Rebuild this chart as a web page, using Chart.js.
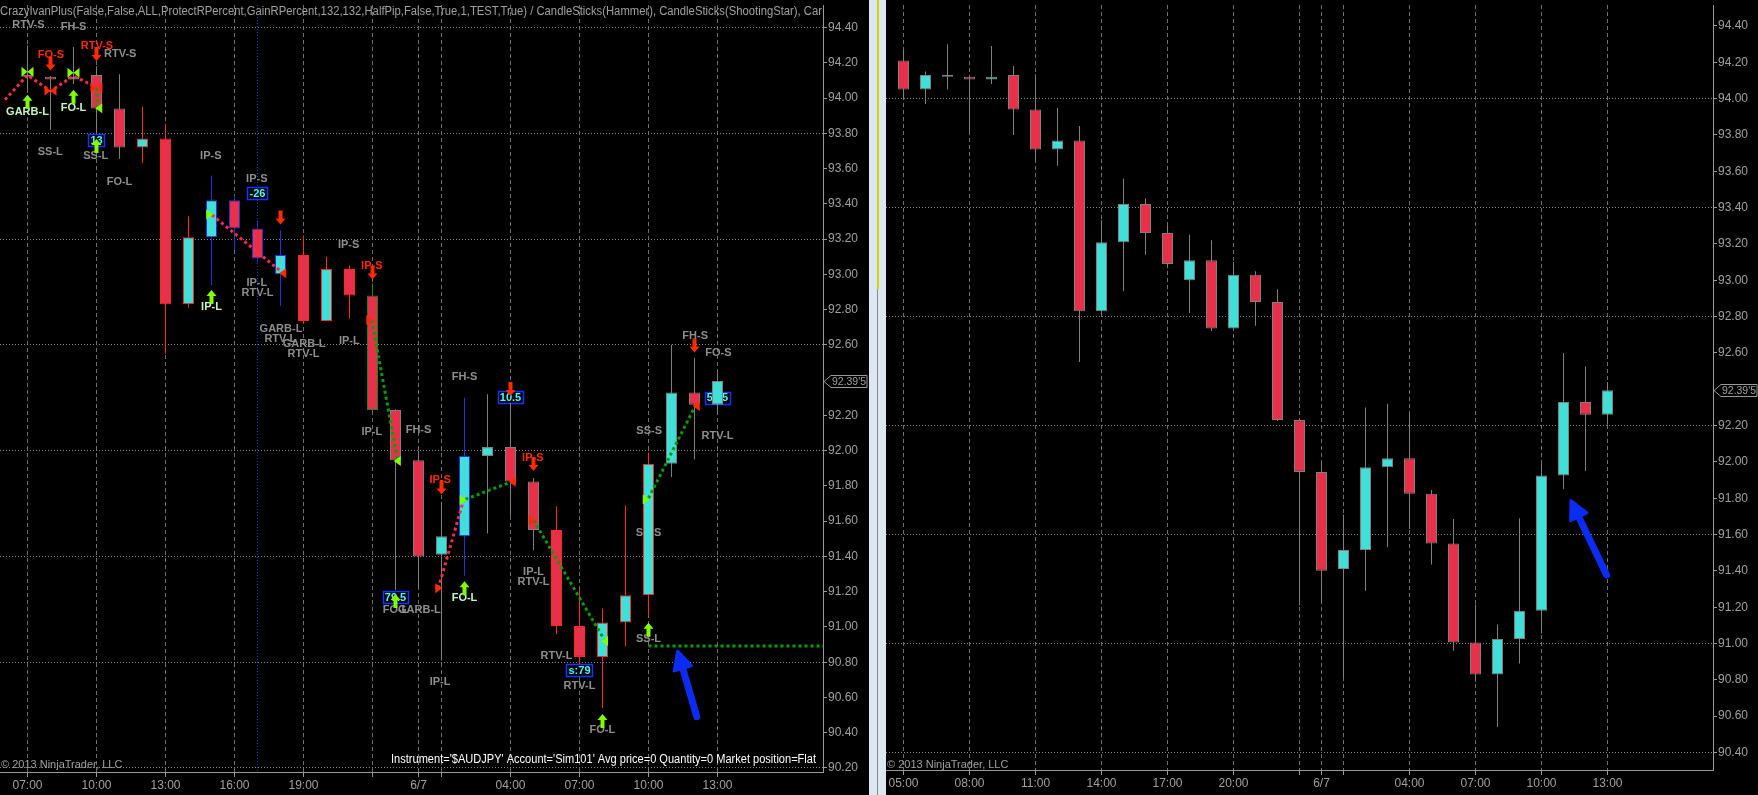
<!DOCTYPE html>
<html>
<head>
<meta charset="utf-8">
<title>$AUDJPY 60 Min</title>
<script src="https://cdn.jsdelivr.net/npm/chart.js@4.4.1/dist/chart.umd.min.js"></script>
<style>
  html, body { margin: 0; padding: 0; background: #000; overflow: hidden; }
  #wrap { position: relative; width: 1758px; height: 795px; background: #000; }
  canvas { position: absolute; top: 0; }
  #left { left: 0; }
  #right { left: 886px; }
  #split { position: absolute; left: 869px; top: 0; width: 17px; height: 795px; background: #dde7f3; }
  #split .hi { position: absolute; left: 8px; top: 0; width: 2px; height: 289px; background: #d4d400; }
  #split .lo { position: absolute; left: 8px; top: 289px; width: 1px; height: 506px; background: #8a8a8a; }
</style>
</head>
<body>
<div id="wrap">
  <canvas id="left" width="869" height="795"></canvas>
  <div id="split"><div class="hi"></div><div class="lo"></div></div>
  <canvas id="right" width="872" height="795"></canvas>
</div>
<script>
// hourly bars, 6/6 05:00 .. 6/7 13:00 (index 0 = 05:00)
const OPEN  = [94.21, 94.05, 94.12, 94.12, 94.105, 94.13, 93.94, 93.72, 93.77, 92.83, 93.21, 93.42, 93.26, 93.00, 93.11, 92.735, 93.03, 92.88, 92.23, 91.945, 91.41, 91.515, 91.97, 92.02, 91.825, 91.55, 91.005, 90.83, 91.025, 91.18, 91.925, 92.33, 92.26];
const HIGH  = [94.27, 94.15, 94.30, 94.125, 94.29, 94.18, 94.135, 93.95, 93.85, 93.33, 93.56, 93.45, 93.30, 93.25, 93.22, 93.10, 93.05, 92.95, 92.235, 92.00, 91.71, 92.30, 92.32, 92.27, 91.845, 91.685, 91.215, 91.105, 91.69, 91.99, 92.60, 92.525, 92.44];
const LOW   = [94.00, 93.97, 94.05, 93.82, 94.08, 93.80, 93.655, 93.63, 92.55, 92.81, 92.94, 93.14, 93.07, 92.82, 92.72, 92.735, 92.75, 92.225, 91.21, 91.22, 90.81, 91.29, 91.53, 91.63, 91.435, 90.96, 90.79, 90.54, 90.89, 91.055, 91.85, 91.95, 92.205];
const CLOSE = [94.05, 94.13, 94.12, 94.105, 94.12, 93.94, 93.72, 93.77, 92.83, 93.21, 93.42, 93.26, 93.09, 93.11, 92.735, 93.03, 92.88, 92.23, 91.945, 91.40, 91.515, 91.97, 92.02, 91.825, 91.55, 91.005, 90.83, 91.025, 91.18, 91.925, 92.33, 92.26, 92.395];

// strategy state of each bar on the left chart (starts at 07:00 = index 2)
const LEFT_FIRST = 2;
const LEFT_STATE = ['flat', 'flat', 'flat', 'flat', 'flat', 'short', 'short', 'short', 'long', 'long', 'long', 'long', 'short', 'short', 'short', 'trail', 'flat', 'flat', 'flat', 'long', 'flat', 'flat', 'flat', 'short', 'short', 'short', 'short', 'short', 'flat', 'flat', 'flat'];

const LEFT_X_TICKS  = [2, 5, 8, 11, 14, 17, 19, 20, 23, 26, 29, 32];
const LEFT_X_LABELS = ['07:00', '10:00', '13:00', '16:00', '19:00', '', '6/7', '', '04:00', '07:00', '10:00', '13:00'];
const RIGHT_X_TICKS  = [0, 3, 6, 9, 12, 15, 18, 19, 20, 23, 26, 29, 32];
const RIGHT_X_LABELS = ['05:00', '08:00', '11:00', '14:00', '17:00', '20:00', '', '6/7', '', '04:00', '07:00', '10:00', '13:00'];
const LEFT_Y_TICKS  = [90.2, 90.4, 90.6, 90.8, 91.0, 91.2, 91.4, 91.6, 91.8, 92.0, 92.2, 92.6, 92.8, 93.0, 93.2, 93.4, 93.6, 93.8, 94.0, 94.2, 94.4];
const RIGHT_Y_TICKS = [90.4, 90.6, 90.8, 91.0, 91.2, 91.4, 91.6, 91.8, 92.0, 92.2, 92.6, 92.8, 93.0, 93.2, 93.4, 93.6, 93.8, 94.0, 94.2, 94.4];
const SESSION_BREAK = [12];

// strategy signal texts [bar, price, text]
const SIGNAL_TEXT = [
  [2.04, 94.414, 'RTV-S'], [4.0, 94.405, 'FH-S'], [6.03, 94.25, 'RTV-S'], [2.99, 93.692, 'SS-L'],
  [4.97, 93.671, 'SS-L'], [6.0, 93.522, 'FO-L'], [9.97, 93.671, 'IP-S'], [11.97, 93.541, 'IP-S'],
  [11.97, 92.952, 'IP-L'], [12.0, 92.896, 'RTV-L'], [13.02, 92.69, 'GARB-L'], [12.99, 92.633, 'RTV-L'],
  [14.03, 92.603, 'GARB-L'], [14.0, 92.546, 'RTV-L'], [15.96, 93.166, 'IP-S'], [15.99, 92.623, 'IP-L'],
  [16.97, 92.107, 'IP-L'], [19.0, 92.117, 'FH-S'], [21.0, 92.416, 'FH-S'], [18.0, 91.096, 'FO-L'],
  [19.04, 91.096, 'GARB-L'], [19.94, 90.689, 'IP-L'], [24.0, 91.313, 'IP-L'], [24.0, 91.256, 'RTV-L'],
  [25.0, 90.835, 'RTV-L'], [26.0, 90.665, 'RTV-L'], [26.99, 90.415, 'FO-L'], [29.03, 92.111, 'SS-S'],
  [29.0, 91.534, 'SS-S'], [29.0, 90.933, 'SS-L'], [31.03, 92.65, 'FH-S'], [32.04, 92.552, 'FO-S'],
  [32.0, 92.083, 'RTV-L']
];
const SHORT_ENTRY_TEXT = [[3.02, 94.244, 'FO-S'], [5.02, 94.297, 'RTV-S'], [16.97, 93.047, 'IP-S'], [19.94, 91.833, 'IP-S'], [23.97, 91.956, 'IP-S']];
const LONG_ENTRY_TEXT = [[2.0, 93.919, 'GARB-L'], [4.0, 93.945, 'FO-L'], [10.0, 92.813, 'IP-L'], [21.0, 91.162, 'FO-L']];
const LONG_ARROWS = [[2.0, 93.979], [4.0, 94.007], [5.0, 93.728], [10.0, 92.871], [18.0, 91.147], [21.0, 91.219], [27.0, 90.466], [29.0, 90.984]];
const SHORT_ARROWS = [[3.0, 94.196], [5.0, 94.25], [13.0, 93.322], [17.0, 93.01], [20.0, 91.791], [23.0, 92.35], [24.0, 91.924], [31.0, 92.596]];
const PNL_TAGS = [[5.0, 93.762, '13'], [12.0, 93.461, '-26'], [18.0, 91.17, '79.5'], [23.0, 92.304, '10.5'], [26.0, 90.756, 's:79'], [32.0, 92.30, '55.5']];
const LONG_FILLS_IN = [[9.9, 93.34], [20.92, 91.72], [28.88, 91.723]];
const LONG_FILLS_OUT = [[5.12, 93.942], [18.1, 91.941], [27.11, 90.921]];
const SHORT_FILLS_IN = [[16.86, 92.741], [19.86, 91.219], [23.92, 91.606]];
const SHORT_FILLS_OUT = [[13.12, 93.006], [23.1, 91.824], [31.1, 92.253]];
const LONG_PIVOTS = [[2.0, 94.149], [4.0, 94.144]];
const SHORT_PIVOTS = [[3.0, 94.041], [5.0, 94.06]];
const SHORT_TRADES = [
  [[1.02, 93.99], [2.0, 94.13], [3.0, 94.04], [4.0, 94.125], [5.02, 94.06]],
  [[10.02, 93.337], [13.12, 93.006]],
  [[19.86, 91.219], [20.96, 91.72]]
];
const LONG_TRADES = [
  [[5.02, 94.06], [5.02, 93.942]],
  [[16.97, 92.741], [18.1, 91.941]],
  [[21.04, 91.724], [23.06, 91.824]],
  [[24.0, 91.606], [27.11, 90.921]],
  [[29.0, 91.73], [31.03, 92.253]]
];
const STOP_LINE = [[29.0, 90.892], [36.6, 90.892]];
const LEFT_POINTER = [[31.1, 90.491], [30.27, 90.863]];
const RIGHT_POINTER = [[31.96, 91.377], [30.34, 91.787]];

const TITLE = "CrazyIvanPlus(False,False,ALL,ProtectRPercent,GainRPercent,132,132,HalfPip,False,True,1,TEST,True) / CandleSticks(Hammer), CandleSticks(ShootingStar), Car";
const ACCOUNT = "Instrument='$AUDJPY' Account='Sim101' Avg price=0 Quantity=0 Market position=Flat";
const COPYRIGHT = '\u00a9 2013 NinjaTrader, LLC';

const SANS = "'Liberation Sans', Arial, sans-serif";
const NARROW = "'Liberation Sans Narrow', 'Liberation Sans', Arial, sans-serif";
const TEXT = '#a0a0a0';
const AXIS = '#9a9a9a';
const UP_FILL = '#40e0d8';
const DOWN_FILL = '#e8304a';
const EDGE = { flat: '#808080', short: '#ff2a1a', long: '#2233dd', trail: '#168a16' };

function candleSets(first, state) {
  const idx = OPEN.map((_, i) => i).slice(first);
  const edge = idx.map((i, k) => EDGE[state ? state[k] : 'flat']);
  const common = { grouped: false, inflateAmount: 0, borderSkipped: false };
  return [
    Object.assign({
      data: idx.map(i => ({ x: i, y: [OPEN[i], CLOSE[i]] })),
      backgroundColor: idx.map(i => CLOSE[i] >= OPEN[i] ? UP_FILL : DOWN_FILL),
      borderColor: edge, borderWidth: 1, barThickness: 11, minBarLength: 2, order: 1
    }, common),
    Object.assign({
      data: idx.map(i => ({ x: i, y: [LOW[i], HIGH[i]] })),
      backgroundColor: edge, borderWidth: 0, barThickness: 1, order: 2
    }, common)
  ];
}

function xScale(min, max, ticks, labels, h) {
  return {
    type: 'linear', min: min, max: max, offset: false,
    grid: { color: '#6e6e6e', tickColor: AXIS, tickLength: 5, offset: false },
    border: { color: AXIS, dash: [4, 3] },
    ticks: { autoSkip: false, maxRotation: 0, padding: 1, color: TEXT, font: { family: NARROW, size: 12 },
      callback: (v, i) => labels[i] },
    afterBuildTicks: s => { s.ticks = ticks.map(v => ({ value: v })); },
    afterFit: s => { s.height = h; s.paddingLeft = 0; s.paddingRight = 0; }
  };
}

function yScale(min, max, ticks, base, w) {
  const major = v => { const q = (base - v) / 0.6; return Math.abs(q - Math.round(q)) < 1e-6; };
  return {
    type: 'linear', position: 'right', min: min, max: max,
    grid: { color: c => (c.tick && major(c.tick.value)) ? '#858585' : 'rgba(0,0,0,0)', tickColor: AXIS, tickLength: 4 },
    border: { color: AXIS, dash: [1, 2] },
    ticks: { padding: 1, color: TEXT, font: { family: SANS, size: 12 }, callback: v => v.toFixed(2) },
    afterBuildTicks: s => { s.ticks = ticks.map(v => ({ value: v })); },
    afterFit: s => { s.width = w; s.paddingTop = 0; s.paddingBottom = 0; }
  };
}

// drawing helpers
function at(chart, i, p) {
  return [chart.scales.x.getPixelForValue(i), chart.scales.y.getPixelForValue(p)];
}
function arrow(ctx, x, y, d) { // d = 1 up, -1 down
  const t = y - 7 * d, nb = y - d, tail = y + 7 * d;
  ctx.beginPath();
  ctx.moveTo(x, t); ctx.lineTo(x + 5, nb); ctx.lineTo(x + 2, nb); ctx.lineTo(x + 2, tail);
  ctx.lineTo(x - 2, tail); ctx.lineTo(x - 2, nb); ctx.lineTo(x - 5, nb);
  ctx.closePath(); ctx.fill();
}
function tri(ctx, x, y, d) { // d = 1 right, -1 left
  ctx.beginPath();
  ctx.moveTo(x + 4 * d, y); ctx.lineTo(x - 3 * d, y - 5); ctx.lineTo(x - 3 * d, y + 5);
  ctx.closePath(); ctx.fill();
}
function bowtie(ctx, x, y) {
  ctx.beginPath();
  ctx.moveTo(x, y); ctx.lineTo(x - 6, y - 5); ctx.lineTo(x - 6, y + 5); ctx.closePath();
  ctx.moveTo(x, y); ctx.lineTo(x + 6, y - 5); ctx.lineTo(x + 6, y + 5); ctx.closePath();
  ctx.fill();
}
function dotted(ctx, pts, color) {
  ctx.strokeStyle = color; ctx.lineWidth = 3; ctx.setLineDash([3, 3]);
  ctx.beginPath();
  pts.forEach(([x, y], k) => k ? ctx.lineTo(x, y) : ctx.moveTo(x, y));
  ctx.stroke(); ctx.setLineDash([]);
}
function pointer(ctx, [x1, y1], [x2, y2]) {
  const a = Math.atan2(y2 - y1, x2 - x1), c = Math.cos(a), s = Math.sin(a);
  const bx = x2 - 18 * c, by = y2 - 18 * s;
  ctx.strokeStyle = ctx.fillStyle = '#0b2cf2';
  ctx.lineCap = 'round'; ctx.lineJoin = 'round';
  ctx.lineWidth = 7;
  ctx.beginPath(); ctx.moveTo(x1, y1); ctx.lineTo(bx + 4 * c, by + 4 * s); ctx.stroke();
  ctx.lineWidth = 3;
  ctx.beginPath(); ctx.moveTo(x2, y2);
  ctx.lineTo(bx + 9 * s, by - 9 * c); ctx.lineTo(bx - 9 * s, by + 9 * c);
  ctx.closePath(); ctx.fill(); ctx.stroke();
}
function priceText(v) {
  const s = v.toFixed(3);
  return s.slice(0, -1) + "'" + s.slice(-1);
}

function notesPlugin(n) {
  return {
    id: 'notes',
    beforeDatasetsDraw(chart) {
      const ctx = chart.ctx, a = chart.chartArea;
      ctx.save();
      ctx.beginPath(); ctx.rect(a.left, a.top, a.right - a.left, a.bottom - a.top); ctx.clip();
      (n.sessions || []).forEach(i => {
        const x = Math.round(chart.scales.x.getPixelForValue(i)) + 0.5;
        ctx.strokeStyle = '#2a35b0'; ctx.lineWidth = 1; ctx.setLineDash([1, 2]);
        ctx.beginPath(); ctx.moveTo(x, a.top); ctx.lineTo(x, a.bottom); ctx.stroke();
        ctx.setLineDash([]);
      });
      ctx.font = 'bold 11px ' + SANS; ctx.textAlign = 'center'; ctx.textBaseline = 'middle';
      (n.texts || []).forEach(([list, color]) => list.forEach(([i, p, t]) => {
        const [x, y] = at(chart, i, p);
        ctx.fillStyle = color; ctx.fillText(t, x, y);
      }));
      (n.tags || []).forEach(([i, p, t]) => {
        const [x, y] = at(chart, i, p);
        const w = Math.round(ctx.measureText(t).width) + 4;
        const l = Math.round(x - w / 2) + 0.5, tp = Math.round(y - 6) + 0.5;
        ctx.fillStyle = '#000'; ctx.fillRect(l, tp, w, 12);
        ctx.strokeStyle = '#1434ff'; ctx.lineWidth = 1.5; ctx.strokeRect(l, tp, w, 12);
        ctx.fillStyle = '#40ffff'; ctx.fillText(t, x, y + 0.5);
      });
      ctx.restore();
    },
    afterDatasetsDraw(chart) {
      const ctx = chart.ctx, a = chart.chartArea;
      const px = list => list.map(([i, p]) => at(chart, i, p));
      ctx.save();
      ctx.beginPath(); ctx.rect(a.left, a.top, a.right - a.left, a.bottom - a.top); ctx.clip();
      (n.shortTrades || []).forEach(t => dotted(ctx, px(t), '#ff2a4a'));
      (n.longTrades || []).forEach(t => dotted(ctx, px(t), '#00a000'));
      if (n.stop) dotted(ctx, px(n.stop), '#00a000');
      ctx.fillStyle = '#80ff00';
      px(n.longPivots || []).forEach(([x, y]) => bowtie(ctx, x, y));
      px(n.longIn || []).forEach(([x, y]) => tri(ctx, x, y, 1));
      px(n.longOut || []).forEach(([x, y]) => tri(ctx, x, y, -1));
      px(n.longArrows || []).forEach(([x, y]) => arrow(ctx, x, y, 1));
      ctx.fillStyle = '#ff2a00';
      px(n.shortPivots || []).forEach(([x, y]) => bowtie(ctx, x, y));
      px(n.shortIn || []).forEach(([x, y]) => tri(ctx, x, y, 1));
      px(n.shortOut || []).forEach(([x, y]) => tri(ctx, x, y, -1));
      px(n.shortArrows || []).forEach(([x, y]) => arrow(ctx, x, y, -1));
      if (n.pointer) { const p = px(n.pointer); pointer(ctx, p[0], p[1]); }
      ctx.restore();
    },
    afterDraw(chart) {
      const ctx = chart.ctx, a = chart.chartArea;
      ctx.save();
      ctx.textBaseline = 'middle';
      if (n.title) {
        ctx.font = '12px ' + SANS; ctx.fillStyle = TEXT; ctx.textAlign = 'left';
        ctx.fillText(n.title, 0, 12, a.right - 1);
      }
      if (n.account) {
        ctx.font = '12px ' + SANS; ctx.fillStyle = '#ffffff'; ctx.textAlign = 'right';
        ctx.fillText(n.account, a.right - 7, 760, 425);
      }
      ctx.font = '11px ' + SANS; ctx.fillStyle = TEXT; ctx.textAlign = 'left';
      ctx.fillText(COPYRIGHT, a.left + 1, 765, 124);
      // last price marker
      const v = CLOSE[CLOSE.length - 1];
      const y = Math.round(chart.scales.y.getPixelForValue(v)) + 0.5, ax = a.right;
      ctx.fillStyle = '#000'; ctx.strokeStyle = '#9a9a9a'; ctx.lineWidth = 1;
      ctx.beginPath();
      ctx.moveTo(ax + 1, y); ctx.lineTo(ax + 8, y - 6); ctx.lineTo(ax + 44, y - 6);
      ctx.lineTo(ax + 44, y + 6); ctx.lineTo(ax + 8, y + 6); ctx.closePath();
      ctx.fill(); ctx.stroke();
      ctx.fillStyle = TEXT; ctx.fillText(priceText(v), ax + 9, y + 0.5, 34);
      ctx.restore();
    }
  };
}

function makeChart(id, sets, xs, ys, notes) {
  return new Chart(document.getElementById(id), {
    type: 'bar',
    data: { datasets: sets },
    options: {
      responsive: false, animation: false, events: [],
      layout: { padding: { top: 5, left: 0, right: 0, bottom: 0 } },
      plugins: { legend: { display: false }, tooltip: { enabled: false } },
      scales: { x: xs, y: ys }
    },
    plugins: [notesPlugin(notes)]
  });
}

makeChart('left', candleSets(LEFT_FIRST, LEFT_STATE),
  xScale(0.80435, 36.587, LEFT_X_TICKS, LEFT_X_LABELS, 23),
  yScale(90.1773, 94.5276, LEFT_Y_TICKS, 94.4, 46),
  {
    title: TITLE, account: ACCOUNT, sessions: SESSION_BREAK,
    texts: [[SIGNAL_TEXT, '#8e8e8e'], [SHORT_ENTRY_TEXT, '#ff2a00'], [LONG_ENTRY_TEXT, '#c4f4c4']],
    tags: PNL_TAGS,
    shortTrades: SHORT_TRADES, longTrades: LONG_TRADES, stop: STOP_LINE,
    longPivots: LONG_PIVOTS, shortPivots: SHORT_PIVOTS,
    longIn: LONG_FILLS_IN, longOut: LONG_FILLS_OUT, shortIn: SHORT_FILLS_IN, shortOut: SHORT_FILLS_OUT,
    longArrows: LONG_ARROWS, shortArrows: SHORT_ARROWS,
    pointer: LEFT_POINTER
  });

makeChart('right', candleSets(0, null),
  xScale(-0.79545, 36.795, RIGHT_X_TICKS, RIGHT_X_LABELS, 25),
  yScale(90.3036, 94.5156, RIGHT_Y_TICKS, 94.0, 45),
  { pointer: RIGHT_POINTER });
</script>
</body>
</html>
